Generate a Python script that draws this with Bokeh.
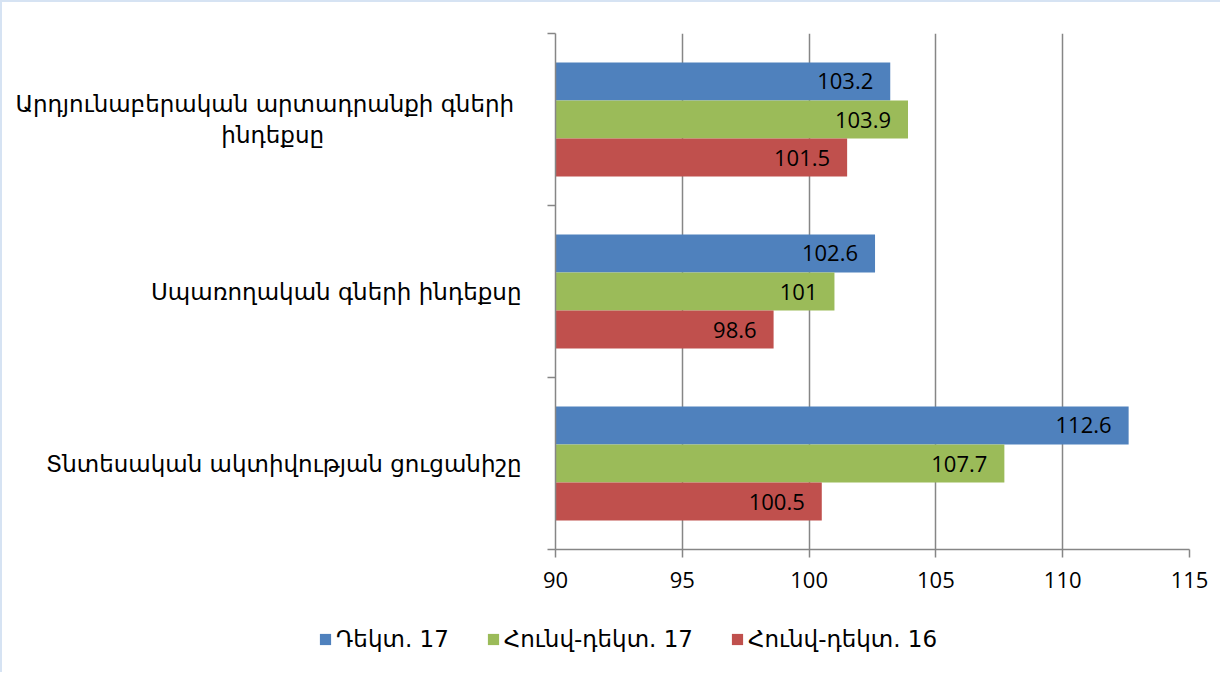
from bokeh.plotting import figure
from bokeh.models import ColumnDataSource, Range1d, FixedTicker, Legend, LegendItem
from bokeh.layouts import column
from bokeh.transform import dodge
from bokeh.core.properties import value
from bokeh.embed import file_html
from bokeh.resources import INLINE

# ---- data (top category first) ----
categories = [
    "Արդյունաբերական արտադրանքի  գների\nինդեքսը",
    "Սպառողական գների ինդեքսը",
    "Տնտեսական ակտիվության ցուցանիշը",
]
series_names = ["Դեկտ. 17", "Հունվ-դեկտ. 17", "Հունվ-դեկտ. 16"]
dec17 = [103.2, 102.6, 112.6]
jan_dec17 = [103.9, 101.0, 107.7]
jan_dec16 = [101.5, 98.6, 100.5]
x_ticks = [90, 95, 100, 105, 110, 115]

colors = ["#4F81BD", "#9BBB59", "#C0504D"]
ARM_FONT = "DejaVu Sans"
NUM_FONT = "Open Sans"


def centred_label(text, pad=27):
    # centre the short second line under the long first line (axis labels are right-aligned)
    if "\n" in text:
        first, second = text.split("\n", 1)
        return first + "\n" + second + "\u00a0" * pad
    return text


n = len(categories)
ypos = [n - i - 0.5 for i in range(n)]  # top category highest

src = ColumnDataSource(dict(
    y=ypos,
    s0=dec17, s1=jan_dec17, s2=jan_dec16,
    t0=[f"{v:g}" for v in dec17],
    t1=[f"{v:g}" for v in jan_dec17],
    t2=[f"{v:g}" for v in jan_dec16],
))

W = 1218
p = figure(width=W, height=610, output_backend="svg", toolbar_location=None,
           x_range=Range1d(90, 115), y_range=Range1d(0, n),
           min_border_left=553, min_border_right=31, min_border_top=31,
           min_border_bottom=63)
p.outline_line_color = None
p.background_fill_color = "white"
p.border_fill_color = "white"

bar_h = 0.221
offsets = [bar_h, 0.0, -bar_h]
cols = ["s0", "s1", "s2"]
tcols = ["t0", "t1", "t2"]
for k in range(3):
    p.hbar(y=dodge("y", offsets[k]), left=90, right=cols[k], height=bar_h,
           source=src, fill_color=colors[k], line_color=None)
    p.text(x=cols[k], y=dodge("y", offsets[k]), text=tcols[k], source=src,
           x_offset=-17, text_align="right", text_baseline="middle",
           text_font=value(NUM_FONT), text_font_size="22px", text_color="black")

# x axis
p.xaxis.ticker = FixedTicker(ticks=x_ticks)
p.xaxis.axis_line_color = "#868686"
p.xaxis.axis_line_width = 1.5
p.xaxis.major_tick_line_color = "#868686"
p.xaxis.major_tick_line_width = 1.5
p.xaxis.major_tick_out = 8
p.xaxis.major_tick_in = 0
p.xaxis.minor_tick_line_color = None
p.xaxis.major_label_text_font = NUM_FONT
p.xaxis.major_label_text_font_size = "22px"
p.xaxis.major_label_text_color = "black"
p.xaxis.major_label_standoff = 14

# y axis: labels at category centres, tick marks at category boundaries
p.yaxis.ticker = FixedTicker(ticks=ypos, minor_ticks=list(range(n + 1)))
p.yaxis.major_label_overrides = {ypos[i]: centred_label(categories[i]) for i in range(n)}
p.yaxis.major_tick_line_color = None
p.yaxis.major_tick_out = 0
p.yaxis.major_tick_in = 0
p.yaxis.minor_tick_line_color = "#868686"
p.yaxis.minor_tick_line_width = 1.5
p.yaxis.minor_tick_out = 8
p.yaxis.minor_tick_in = 0
p.yaxis.axis_line_color = "#868686"
p.yaxis.axis_line_width = 1.5
p.yaxis.major_label_text_font = ARM_FONT
p.yaxis.major_label_text_font_size = "23px"
p.yaxis.major_label_text_color = "black"
p.yaxis.major_label_standoff = 26

p.xgrid.ticker = FixedTicker(ticks=x_ticks[1:])
p.xgrid.grid_line_color = "#868686"
p.xgrid.grid_line_width = 1.5
p.ygrid.grid_line_color = None

# ---- legend strip below the chart (its bars fall outside its own ranges) ----
pl = figure(width=W, height=60, output_backend="svg", toolbar_location=None,
            x_range=Range1d(0, 1), y_range=Range1d(0, 1),
            x_axis_location=None, y_axis_location=None, min_border=0)
pl.outline_line_color = None
pl.grid.visible = False
leg_renderers = [pl.hbar(y="y", left=90, right=cols[k], height=bar_h, source=src,
                         fill_color=colors[k], line_color=None) for k in range(3)]
legend = Legend(items=[LegendItem(label=series_names[k], renderers=[leg_renderers[k]]) for k in range(3)],
                orientation="horizontal", location=(316, 20),
                padding=0, margin=0, spacing=37, label_standoff=4,
                glyph_width=14, glyph_height=14, label_height=22,
                label_text_font=ARM_FONT, label_text_font_size="23px",
                label_text_color="black", border_line_color=None,
                background_fill_alpha=0)
pl.add_layout(legend, "center")

for fig in (p, pl):
    if "frame_align" in fig.properties():
        fig.frame_align = False

layout = column(p, pl, spacing=0)
layout.styles = {"border-left": "2px solid #d6e3f3", "border-top": "2px solid #d6e3f3"}
open("out.html", "w").write(file_html(layout, INLINE))
